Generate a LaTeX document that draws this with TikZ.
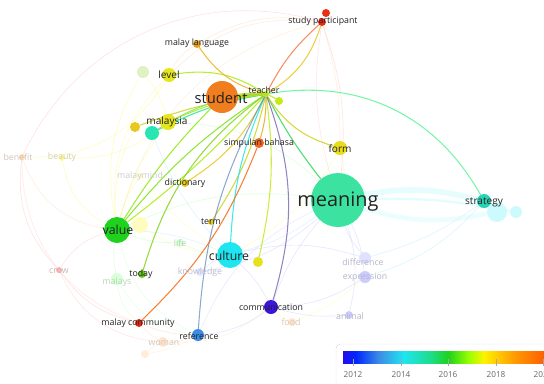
\documentclass[tikz,border=0pt]{standalone}
\usepackage{fontspec}
\setmainfont{Open Sans}
\usetikzlibrary{backgrounds}

\definecolor{cMeaning}{HTML}{3CE3A0}
\definecolor{cStudent}{HTML}{F07D1E}
\definecolor{cTeacher}{HTML}{B4E61E}
\definecolor{cRed}{HTML}{E62814}
\definecolor{cOrange}{HTML}{E6A01E}
\definecolor{cYellow}{HTML}{E6E61E}
\definecolor{cGold}{HTML}{E6C81E}
\definecolor{cTeal}{HTML}{28E6B4}
\definecolor{cStrategy}{HTML}{28D2B4}
\definecolor{cValue}{HTML}{1ED21E}
\definecolor{cCulture}{HTML}{1EE6F0}
\definecolor{cComm}{HTML}{3C14DC}
\definecolor{cRef}{HTML}{3C8CE6}
\definecolor{cToday}{HTML}{64C81E}
\definecolor{cSimp}{HTML}{F0641E}
\definecolor{cLabel}{HTML}{222222}

% TikZ maps 25bp..75bp of the shading onto the bar
\pgfdeclarehorizontalshading{yearbar}{100bp}{
  color(0bp)=(cComm!60!blue); color(25bp)=(cComm!60!blue); color(28bp)=(blue!85!cyan);
  color(33.5bp)=(cRef); color(39.5bp)=(cCulture);
  color(46bp)=(cCulture!50!cValue); color(50bp)=(cValue);
  color(55bp)=(yellow!60!green); color(58.5bp)=(yellow!90!orange);
  color(66bp)=(orange!80!yellow); color(75bp)=(orange!60!red); color(100bp)=(orange!60!red)}

\begin{document}
\begin{tikzpicture}[
    x=0.03cm, y=-0.03cm,
    % Styles
    bub/.style={
        circle,
        inner sep=0pt,
        draw=none,
        minimum size=#1*0.06cm
    },
    lbl/.style={
        font=\fontsize{7.5}{8}\selectfont,
        text=cLabel,
        inner sep=0pt
    },
    lblM/.style={
        font=\fontsize{8.6}{9}\selectfont,
        text=cLabel,
        inner sep=0pt
    },
    lblL/.style={
        font=\fontsize{10.5}{11}\selectfont,
        text=cLabel,
        inner sep=0pt
    },
    lblF/.style={
        font=\fontsize{7.5}{8}\selectfont,
        text=gray!45,
        inner sep=0pt
    },
    link/.style={
        line width=0.9pt,
        line cap=round,
        opacity=0.85
    },
    faint/.style={
        line width=0.6pt,
        opacity=0.3
    }
]
\useasboundingbox (0,0) rectangle (544,383);

% Main bubbles
\node[bub=27, fill=cMeaning] (meaning) at (338,200) {};
\node[bub=16, fill=cStudent] (student) at (222,97) {};
\node[bub=3, fill=cTeacher] (teacher) at (266,94) {};
\node[bub=4, fill=cTeacher!80!yellow] (tdot) at (279,101) {};
\node[bub=4, fill=cRed!90!orange] (spA) at (326,13) {};
\node[bub=4, fill=cRed] (sp) at (322,22) {};
\node[bub=4, fill=cOrange] (malaylang) at (197,44) {};
\node[bub=7, fill=cYellow] (level) at (169,75) {};
\node[bub=6, fill=yellow!50!green!40, opacity=0.6] (paleY) at (143,72) {};
\node[bub=8, fill=cYellow] (malaysia) at (168,122) {};
\node[bub=5, fill=cGold] (pdot) at (135,127) {};
\node[bub=7, fill=cTeal] (teal) at (152,133) {};
\node[bub=5, fill=cSimp] (simpulan) at (259,143) {};
\node[bub=7, fill=cYellow!90!orange] (form) at (340,148) {};
\node[bub=4, fill=cGold] (dictionary) at (185,183) {};
\node[bub=10, fill=cCulture!22] (cyanA) at (497,212) {};
\node[bub=6, fill=cCulture!22] (cyanB) at (516,212) {};
\node[bub=7, fill=cStrategy] (strategy) at (484,201) {};
\node[bub=8, fill=yellow!25] (paleV) at (140,225) {};
\node[bub=13, fill=cValue] (value) at (117,230) {};
\node[bub=3, fill=cGold] (term) at (211,222) {};
\node[bub=13, fill=cCulture] (culture) at (230,255) {};
\node[bub=5, fill=cYellow!95!orange] (ydot) at (258,262) {};
\node[bub=4, fill=cToday] (today) at (142,274) {};
\node[bub=7, fill=cComm] (comm) at (271,307) {};
\node[bub=4, fill=cRed] (malaycomm) at (139,323) {};
\node[bub=6, fill=cRef] (reference) at (198,335) {};

% Faint bubbles
\node[bub=3, fill=orange!30] (benefit) at (22,157) {};
\node[bub=3, fill=yellow!40] (beauty) at (62,158) {};
\node[bub=3, fill=yellow!25] (malaymind) at (140,176) {};
\node[bub=4, fill=green!15] (life) at (180,243) {};
\node[bub=3, fill=red!30] (crow) at (59,270) {};
\node[bub=6, fill=green!15] (malays) at (117,279) {};
\node[bub=4, fill=blue!10] (knowledge) at (200,272) {};
\node[bub=6, fill=blue!12] (diff) at (365,258) {};
\node[bub=6, fill=blue!20] (expr) at (365,277) {};
\node[bub=4, fill=blue!20] (animal) at (349,315) {};
\node[bub=4, fill=orange!20] (food) at (292,322) {};
\node[bub=5, fill=orange!20] (woman) at (163,342) {};
\node[bub=4, fill=orange!15] (aspect) at (145,354) {};

% Links behind the bubbles
\begin{scope}[on background layer]
\foreach \a/\b/\bd/\c in {
    sp/benefit/-40/red!35, sp/malaylang/-20/orange!45, sp/meaning/12/red!35,
    sp/meaning/-12/red!30, sp/form/8/orange!40, sp/level/-25/red!25,
    sp/value/-30/orange!35, benefit/value/-30/orange!40, beauty/value/-25/yellow!70,
    beauty/malaysia/-20/yellow!70, benefit/level/-30/yellow!70, benefit/crow/-25/red!35,
    crow/malaycomm/-20/red!35, crow/value/20/red!30, crow/woman/-30/red!30,
    malaymind/value/-10/yellow!60, paleY/value/-20/yellow!70, paleY/malaysia/10/yellow!70,
    paleV/culture/-15/yellow!60, life/culture/-10/green!40, life/value/10/green!40,
    knowledge/culture/10/blue!30, knowledge/meaning/-15/blue!30, malays/value/10/green!40,
    malays/malaycomm/-20/green!30, woman/malaycomm/10/orange!40, woman/reference/-10/orange!40,
    aspect/woman/10/orange!40, food/comm/10/yellow!60, animal/comm/10/blue!30,
    animal/meaning/-15/blue!30, diff/meaning/10/blue!30, expr/meaning/-10/blue!30,
    expr/comm/15/blue!30, diff/culture/-15/blue!30, meaning/culture/10/cyan!40,
    meaning/value/-15/green!40, meaning/comm/-10/blue!30, strategy/expr/15/cyan!40,
    strategy/diff/10/cyan!40, culture/value/-10/cyan!40, reference/comm/-15/blue!30,
    malaycomm/reference/-10/red!30, culture/comm/10/blue!30, meaning/form/-10/yellow!60,
    meaning/malaysia/-20/green!40, malaysia/value/-10/yellow!70, level/value/-25/yellow!60,
    malaylang/level/-15/orange!40, form/culture/15/yellow!60, woman/comm/-20/orange!30,
    benefit/malaycomm/-35/red!25, value/reference/-25/green!30, malays/reference/-25/green!25,
    malaymind/culture/-10/yellow!50, pdot/value/-15/yellow!60, teal/culture/-10/cyan!40,
    aspect/reference/-10/orange!30, meaning/reference/-20/blue!25, expr/food/10/yellow!50}
  \draw[faint, draw=\c] (\a) to[bend left=\bd] (\b);

% meaning -- strategy band
\draw[line width=5pt, cCulture!30, opacity=0.35] (meaning) to[bend left=12] (strategy);
\draw[line width=4pt, cCulture!25, opacity=0.35] (meaning) to[bend right=14] (cyanA);
\draw[line width=2pt, cCulture!35, opacity=0.35] (meaning) to[bend left=6] (cyanB);
\draw[line width=1.5pt, cCulture!30, opacity=0.4] (strategy) to[bend left=10] (cyanA);

% student -- teacher band
\draw[line width=2.5pt, cTeacher!80!cStudent] (student) -- (teacher);
\draw[link, cTeacher] (student) to[bend left=6] (teacher);
\draw[link, cTeacher] (student) to[bend right=6] (teacher);

% Strong links
\draw[link, cStudent!70!red!80] (teacher) to[bend left=10] (sp);
\draw[link, cYellow!70!cStudent] (teacher) to[bend right=20] (sp);
\draw[link, cTeal!60!green!70] (teacher) to[bend left=35] (strategy);
\draw[link, cValue!60!cMeaning] (teacher) to[bend right=5] (meaning);
\draw[link, cYellow!90!black] (teacher) to[bend right=20] (form);
\draw[link, cValue!60!yellow] (teacher) to[bend right=8] (value);
\draw[link, cValue!40!yellow] (teacher) to[bend left=5] (value);
\draw[link, cValue!50!yellow] (student) to[bend right=6] (value);
\draw[link, cGold] (teacher) to[bend left=15] (dictionary);
\draw[link, cToday!80!yellow] (teacher) to[bend right=18] (today);
\draw[link, cYellow!90!black] (teacher) to[bend left=10] (term);
\draw[link, cYellow!85!green] (teacher) to[bend left=10] (ydot);
\draw[link, cCulture!80!cTeal] (culture) to[bend left=10] (teacher);
\draw[link, cRef!55!gray, opacity=0.7] (reference) to[bend left=12] (teacher);
\draw[link, cComm!45!gray, opacity=0.7] (comm) to[bend right=18] (teacher);
\draw[link, cSimp!80!orange] (malaycomm) to[bend right=12] (simpulan);
\draw[link, cSimp!50!cYellow] (simpulan) to[bend right=8] (teacher);
\draw[link, cTeal!80!green] (teal) to[bend left=8] (teacher);
\draw[link, cTeal!60!cYellow] (teal) to[bend left=14] (teacher);
\draw[link, cYellow!70!green] (malaysia) to[bend left=8] (teacher);
\draw[link, cYellow!90!black] (pdot) to[bend left=6] (teacher);
\draw[link, cValue!40!yellow] (level) to[bend left=20] (teacher);
\draw[link, cOrange!80!yellow] (malaylang) to[bend right=20] (teacher);
\draw[link, cTeacher] (teacher) to[bend left=8] (tdot);
\end{scope}

% Labels
\node[font=\fontsize{17}{18}\selectfont, text=cLabel, inner sep=0pt] (meaningL) at ([yshift=-1]meaning) {meaning};
\node[font=\fontsize{12.6}{13}\selectfont, text=cLabel, inner sep=0pt] (studentL) at (221,98) {student};
\node[lblL] (valueL) at (118,230) {value};
\node[lblL] (cultureL) at (229,256) {culture};
\node[lblM] (malaysiaL) at (167,122) {malaysia};
\node[lblM] (levelL) at (169,75) {level};
\node[lblM] (formL) at (340,149) {form};
\node[lblM] (strategyL) at (484,202) {strategy};
\node[lbl] (teacherL) at (264,90) {teacher};
\node[lbl] (spL) at (323,21) {study participant};
\node[lbl] (malaylangL) at (197,43) {malay language};
\node[lbl] (simpulanL) at (259,143) {simpulan bahasa};
\node[lbl] (dictionaryL) at (185,183) {dictionary};
\node[lbl] (termL) at (211,222) {term};
\node[lbl] (todayL) at (141,274) {today};
\node[lbl] (commL) at (271,307) {communication};
\node[lbl] (malaycommL) at (138,323) {malay community};
\node[lbl] (referenceL) at (199,336) {reference};

% Faint labels
\node[lblF, text=orange!20!gray!45] (benefitL) at (18,157) {benefit};
\node[lblF, text=yellow!30!gray!60] (beautyL) at (62,157) {beauty};
\node[lblF, text=gray!40] (malaymindL) at (140,176) {malaymind};
\node[lblF, text=green!30!gray!50] (lifeL) at (180,243) {life};
\node[lblF, text=blue!20!gray!45] (knowledgeL) at (200,272) {knowledge};
\node[lblF, text=red!20!gray!50] (crowL) at (59,271) {crow};
\node[lblF, text=green!25!gray!45] (malaysL) at (117,282) {malays};
\node[lblF, text=blue!15!gray!50] (diffL) at (363,262) {difference};
\node[lblF, text=blue!15!gray!50] (exprL) at (365,277) {expression};
\node[lblF, text=blue!15!gray!50] (animalL) at (350,316) {animal};
\node[lblF, text=orange!30!gray!45] (foodL) at (291,322) {food};
\node[lblF, text=orange!25!gray!45] (womanL) at (164,343) {woman};

% Legend
\begin{scope}
\clip (0,0) rectangle (544,383);
\draw[gray!25, fill=white, rounded corners=4] (336,344) rectangle (570,390);
\shade[shading=yearbar] (343,351) rectangle (553,363);
\foreach \yr/\xp in {2012/353, 2014/401, 2016/448, 2018/496, 2020/543} {
    \draw[gray!70] (\xp,359) -- (\xp,366);
    \node[font=\fontsize{7}{8}\selectfont, text=gray!80!black, inner sep=0pt] (yr\yr) at (\xp,375) {\yr};
}
\end{scope}

\end{tikzpicture}
\end{document}
